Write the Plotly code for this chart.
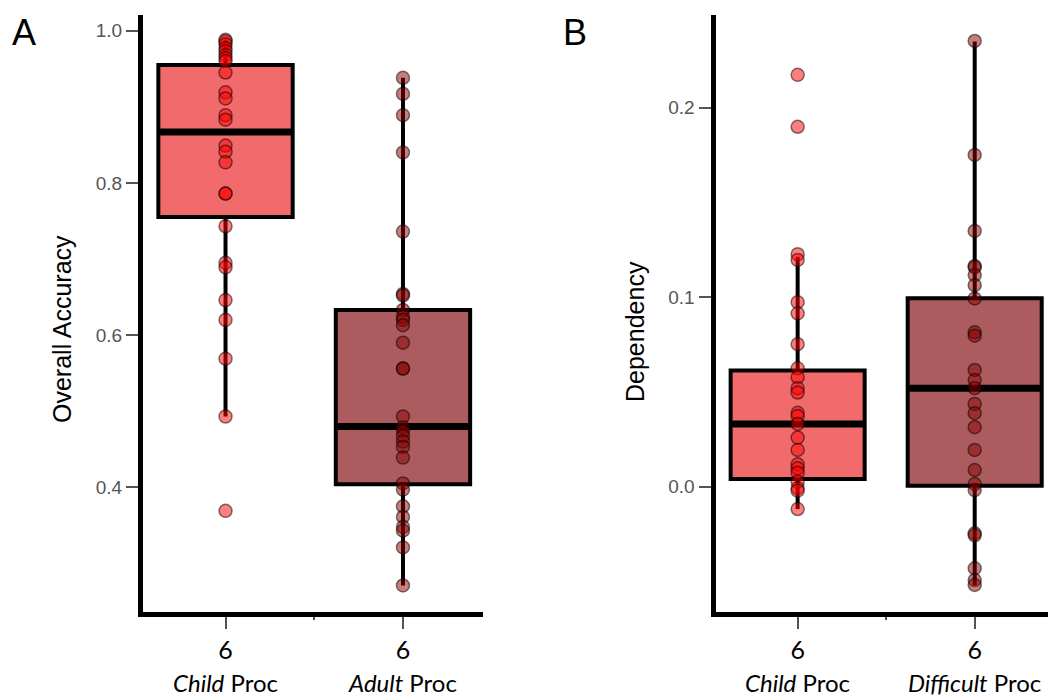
import plotly.graph_objects as go

# ---------------- data ----------------
panel_a_categories = ["Child", "Adult"]
panel_b_categories = ["Child", "Difficult"]
tick_number = ["6", "6"]

acc_child = [0.988, 0.986, 0.982, 0.977, 0.973, 0.968, 0.964, 0.960, 0.945, 0.919,
             0.911, 0.889, 0.883, 0.849, 0.841, 0.827, 0.786, 0.786, 0.743, 0.695,
             0.689, 0.646, 0.620, 0.569, 0.493, 0.369]
acc_adult = [0.938, 0.917, 0.889, 0.840, 0.736, 0.654, 0.652, 0.633, 0.624, 0.620,
             0.613, 0.590, 0.556, 0.556, 0.493, 0.479, 0.474, 0.467, 0.460, 0.453,
             0.439, 0.405, 0.397, 0.375, 0.361, 0.348, 0.343, 0.321, 0.271]

dep_child = [0.2174, 0.190, 0.1227, 0.1197, 0.0974, 0.0915, 0.0752, 0.0625, 0.0578,
             0.052, 0.0497, 0.039, 0.0373, 0.0331, 0.0259, 0.0194, 0.0118, 0.0097,
             0.0074, 0.0026, -0.0008, -0.0021, -0.0118]
dep_difficult = [0.2353, 0.1751, 0.135, 0.1165, 0.1158, 0.1117, 0.1064, 0.0994, 0.0815,
                 0.0797, 0.0616, 0.0563, 0.052, 0.0437, 0.0388, 0.0314, 0.0194, 0.0088,
                 0.0014, -0.0018, -0.0246, -0.0257, -0.0431, -0.0493, -0.0519]

# box summary statistics (q1, median, q3, lower fence, upper fence)
acc_q1 = [0.755, 0.404]
acc_median = [0.867, 0.480]
acc_q3 = [0.955, 0.633]
acc_lower = [0.493, 0.271]
acc_upper = [0.988, 0.938]

dep_q1 = [0.0041, 0.0005]
dep_median = [0.0331, 0.052]
dep_q3 = [0.0613, 0.0995]
dep_lower = [-0.0118, -0.052]
dep_upper = [0.1214, 0.235]

acc_ticks = [0.4, 0.6, 0.8, 1.0]
dep_ticks = [0.0, 0.1, 0.2]

# ---------------- style ----------------
box_fill = ["#F16A6C", "#AC5C5F"]
point_fill = ["rgba(255,0,0,0.5)", "rgba(139,0,0,0.5)"]
box_w = 0.757

fig = go.Figure()


def add_panel(xa, ya, values, q1, med, q3, lo, hi):
    for i in range(2):
        fig.add_trace(go.Box(
            x=[i], q1=[q1[i]], median=[med[i]], q3=[q3[i]],
            lowerfence=[lo[i]], upperfence=[hi[i]],
            width=box_w, whiskerwidth=0, boxpoints=False,
            fillcolor=box_fill[i], line=dict(color="black", width=4),
            xaxis=xa, yaxis=ya, showlegend=False, hoverinfo="skip"))
        fig.add_trace(go.Scatter(
            x=[i - box_w / 2 + 0.01, i + box_w / 2 - 0.01], y=[med[i], med[i]],
            mode="lines", line=dict(color="black", width=7),
            xaxis=xa, yaxis=ya, showlegend=False, hoverinfo="skip"))
    for i in range(2):
        fig.add_trace(go.Scatter(
            x=[i] * len(values[i]), y=values[i], mode="markers",
            marker=dict(size=13, color=point_fill[i],
                        line=dict(color="rgba(0,0,0,0.5)", width=1.5)),
            xaxis=xa, yaxis=ya, showlegend=False, hoverinfo="skip"))


add_panel("x", "y", [acc_child, acc_adult], acc_q1, acc_median, acc_q3, acc_lower, acc_upper)
add_panel("x2", "y2", [dep_child, dep_difficult], dep_q1, dep_median, dep_q3, dep_lower, dep_upper)

W, H = 1048, 698
ydom = [1 - 611.7 / H, 1 - 15 / H]

xcommon = dict(showline=True, linewidth=5, linecolor="black", ticks="outside",
               ticklen=12, tickwidth=2, tickcolor="#555555", showgrid=False,
               zeroline=False, tickvals=[0, 1], ticktext=tick_number,
               tickfont=dict(family="Lato", size=25, color="black"),
               minor=dict(tickvals=[0.5], ticklen=3, tickwidth=2, tickcolor="#555555",
                          ticks="outside", showgrid=False))
ycommon = dict(showline=True, linewidth=5, linecolor="black", ticks="outside",
               ticklen=12, tickwidth=2, tickcolor="#555555", showgrid=False,
               zeroline=False, domain=ydom,
               tickfont=dict(family="Liberation Sans", size=19, color="#555555"))

fig.update_layout(
    width=W, height=H, margin=dict(l=0, r=0, t=0, b=0),
    paper_bgcolor="white", plot_bgcolor="white",
    xaxis=dict(xcommon, domain=[143 / W, 483 / W], range=[-0.465, 1.451], anchor="y"),
    yaxis=dict(ycommon, range=[0.2365, 1.0206], tickvals=acc_ticks,
               ticktext=["%.1f" % v for v in acc_ticks], anchor="x"),
    xaxis2=dict(xcommon, domain=[715.5 / W, 1.0], range=[-0.464, 1.414], anchor="y2"),
    yaxis2=dict(ycommon, range=[-0.066, 0.249], tickvals=dep_ticks,
                ticktext=["%.1f" % v for v in dep_ticks], anchor="x2"),
)

ann = []
for xr, cats in (("x", panel_a_categories), ("x2", panel_b_categories)):
    for i, c in enumerate(cats):
        ann.append(dict(x=i, xref=xr, y=0, yref="paper", yanchor="bottom",
                        text="<i>%s</i> Proc" % c, showarrow=False, borderpad=0,
                        font=dict(family="Lato", size=24, color="black")))
ann.append(dict(x=62 / W, y=1 - 329 / H, xref="paper", yref="paper", text="Overall Accuracy",
                textangle=-90, showarrow=False, xanchor="center", yanchor="middle",
                font=dict(family="Liberation Sans", size=25, color="black")))
ann.append(dict(x=635 / W, y=1 - 332 / H, xref="paper", yref="paper", text="Dependency",
                textangle=-90, showarrow=False, xanchor="center", yanchor="middle",
                font=dict(family="Liberation Sans", size=25, color="black")))
ann.append(dict(x=24 / W, y=1 - 32 / H, xref="paper", yref="paper", text="A",
                showarrow=False, xanchor="center", yanchor="middle",
                font=dict(family="Liberation Sans", size=36, color="black")))
ann.append(dict(x=575 / W, y=1 - 32 / H, xref="paper", yref="paper", text="B",
                showarrow=False, xanchor="center", yanchor="middle",
                font=dict(family="Liberation Sans", size=36, color="black")))
fig.update_layout(annotations=ann)

fig.write_html("out.html", config={"displayModeBar": False},
               post_script="document.body.style.margin='0';"
                           "document.body.style.overflow='hidden';")
